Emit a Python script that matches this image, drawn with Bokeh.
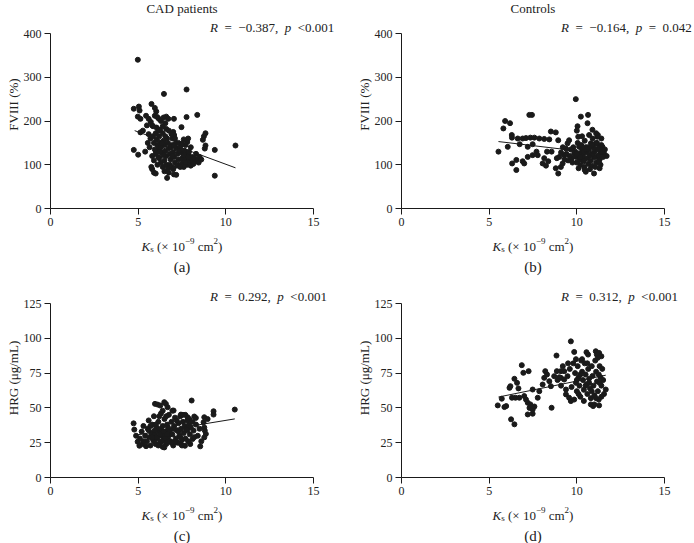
import math
from bokeh.plotting import figure
from bokeh.models import Label, Range1d, FixedTicker, ColumnDataSource
from bokeh.layouts import column, row
from bokeh.embed import file_html
from bokeh.resources import INLINE

# ---------------- data ----------------
x_ticks = [0, 5, 10, 15]
fviii_ticks = [0, 100, 200, 300, 400]
hrg_ticks = [0, 25, 50, 75, 100, 125]

panel_titles = ["CAD patients", "Controls"]
panel_letters = ["(a)", "(b)", "(c)", "(d)"]
r_values = ["\u22120.387", "\u22120.164", "0.292", "0.312"]
p_values = ["<0.001", "=\u20020.042", "<0.001", "<0.001"]

# (a) CAD patients: Ks vs FVIII (%)
cad_fviii = [
    (4.98, 340), (6.47, 262), (7.76, 272),
    (4.75, 228), (5.04, 233), (5.08, 224), (5.76, 239), (5.95, 230), (6.03, 222),
    (4.98, 210), (5.13, 205), (5.45, 212), (5.6, 205), (5.72, 198), (5.8, 190),
    (5.95, 212), (6.09, 209), (6.18, 205), (6.3, 200), (6.45, 208), (6.6, 210), (6.72, 205),
    (6.55, 195), (6.4, 188), (6.25, 180),
    (7.04, 205), (7.76, 209), (8.37, 214), (7.47, 186), (7.0, 175), (7.05, 168), (6.95, 160),
    (8.84, 172), (8.75, 165), (8.69, 157), (7.85, 160), (7.8, 152), (7.7, 145), (10.55, 144),
    (8.84, 144), (8.8, 137), (9.37, 134), (9.37, 75),
    (6.65, 70), (7.04, 78), (7.17, 77), (5.8, 90), (5.9, 82), (5.75, 95), (6.0, 80),
    (4.75, 134), (5.0, 123), (5.13, 174), (5.27, 178), (5.4, 130),
    (5.6, 170), (5.7, 160), (5.85, 165), (5.9, 150), (6.0, 172), (6.05, 158), (6.1, 145),
    (6.15, 135), (6.2, 165), (6.25, 150), (6.3, 140), (6.35, 128), (6.4, 172), (6.45, 155),
    (6.5, 145), (6.55, 132), (6.6, 120), (6.65, 160), (6.7, 150), (6.75, 138), (6.8, 125),
    (6.85, 112), (6.9, 170), (6.95, 145), (7.0, 130), (7.05, 118), (7.1, 105), (7.15, 150),
    (7.2, 138), (7.25, 125), (7.3, 112), (7.35, 100), (7.4, 140), (7.45, 128), (7.5, 115),
    (7.55, 105), (7.6, 95), (7.65, 132), (7.7, 120), (7.75, 110), (7.8, 100), (7.85, 125),
    (7.9, 112), (7.95, 105), (8.0, 98), (8.05, 118), (8.1, 110), (8.2, 115), (8.3, 108),
    (8.4, 112), (8.5, 118), (8.6, 112), (8.3, 125),
    (5.8, 120), (5.9, 110), (6.0, 125), (6.1, 100), (6.2, 115), (6.3, 105), (6.4, 95),
    (6.5, 110), (6.6, 100), (6.7, 92), (6.8, 100), (6.9, 95), (7.0, 90), (6.05, 185),
    (6.15, 178), (6.6, 182), (6.75, 178), (7.1, 160), (7.3, 150), (7.5, 148), (7.6, 158),
    (7.2, 98), (7.4, 95), (7.9, 130), (8.0, 140), (7.65, 100), (7.7, 105), (8.15, 102),
    (8.45, 105), (6.35, 150), (6.55, 165), (6.85, 140), (7.05, 143), (6.45, 122), (6.25, 130),
    (6.15, 118), (5.95, 135), (5.65, 140), (5.55, 150), (5.5, 190), (5.85, 188), (6.95, 120),
    (7.35, 132), (7.6, 122), (7.85, 118), (6.5, 85), (6.75, 82),
]
cad_fviii_fit_x = [4.8, 10.55]
cad_fviii_fit_y = [178, 93]

# (b) Controls: Ks vs FVIII (%)
ctl_fviii = [
    (9.94, 250), (5.53, 130), (5.81, 183), (5.91, 200), (6.19, 195), (6.06, 141), (6.29, 168),
    (6.30, 162), (6.31, 103), (6.55, 88), (6.55, 111), (6.74, 147), (6.91, 108), (7.0, 103),
    (7.29, 214), (7.44, 214),
    (6.63, 160), (6.91, 160), (7.1, 161), (7.35, 162), (7.58, 162), (7.86, 160), (8.14, 159),
    (8.43, 158),
    (7.2, 141), (7.48, 147), (7.7, 130), (7.77, 122), (7.48, 122), (7.2, 118), (8.05, 103),
    (8.24, 98), (8.37, 108), (8.14, 115), (8.3, 130), (8.56, 130), (8.52, 176), (8.8, 174),
    (8.94, 156), (8.86, 115), (8.8, 92), (8.94, 80), (9.09, 95), (9.19, 103), (9.28, 122),
    (9.38, 137), (9.47, 149), (9.56, 156), (9.70, 115), (9.85, 126), (10.04, 188), (10.0, 178),
    (10.08, 164), (10.13, 141), (10.23, 210), (10.27, 126), (10.32, 111), (10.42, 95),
    (10.51, 84), (10.61, 195), (10.64, 214), (10.7, 168), (10.8, 149), (10.89, 180),
    (10.98, 80), (10.98, 118), (11.08, 149), (11.17, 164), (11.27, 141), (11.3, 92),
    (11.36, 130), (11.46, 141), (11.55, 126), (11.7, 120),
    (9.8, 140), (9.9, 130), (9.95, 118), (10.0, 105), (10.05, 150), (10.1, 125), (10.15, 112),
    (10.2, 100), (10.25, 145), (10.3, 135), (10.35, 120), (10.4, 108), (10.45, 155),
    (10.5, 140), (10.55, 128), (10.6, 115), (10.65, 102), (10.7, 135), (10.75, 122),
    (10.8, 110), (10.85, 98), (10.9, 160), (10.95, 140), (11.0, 130), (11.05, 118),
    (11.1, 105), (11.15, 150), (11.2, 135), (11.25, 122), (11.3, 112), (11.35, 100),
    (11.4, 160), (11.45, 128), (11.5, 118), (11.2, 168), (11.1, 172), (10.4, 130),
    (10.6, 140), (10.2, 118), (10.0, 125), (9.75, 105), (9.6, 120), (9.5, 110), (9.65, 135),
    (10.45, 88), (10.75, 90), (11.25, 108), (10.9, 125), (10.3, 165), (11.4, 145),
    (11.6, 135), (9.4, 125), (9.3, 112), (9.2, 140), (9.1, 128), (9.0, 118), (10.1, 92),
    (11.05, 95), (10.85, 145),
]
ctl_fviii_fit_x = [5.53, 11.65]
ctl_fviii_fit_y = [153, 124]

# (c) CAD patients: Ks vs HRG (ug/mL)
cad_hrg = [
    (10.51, 48.8), (9.3, 47.6), (9.3, 45.2), (8.05, 55.3), (8.54, 22.4), (4.74, 38.9),
    (4.78, 34.4), (4.88, 30.0), (4.97, 25.7), (5.07, 22.8),
    (5.96, 52.9), (6.11, 52.4), (6.26, 51.7), (6.49, 54.1), (6.58, 52.9), (6.68, 50.5),
    (7.02, 48.1), (7.44, 45.2), (7.69, 45.0), (7.82, 43.3), (7.91, 42.0), (8.2, 43.8),
    (8.29, 42.8), (8.77, 43.3), (8.96, 42.0), (8.73, 39.7), (8.77, 36.0), (8.8, 33.7),
    (8.86, 31.3), (8.77, 28.8), (8.16, 33.7), (8.1, 27.6), (7.97, 24.0), (7.67, 22.8),
    (7.44, 24.0), (7.06, 25.2), (6.49, 21.6),
    (5.1, 28), (5.2, 33), (5.25, 24), (5.3, 37), (5.4, 30), (5.5, 26), (5.55, 35), (5.6, 41),
    (5.65, 29), (5.7, 23), (5.75, 32), (5.8, 38), (5.85, 27), (5.9, 44), (5.95, 31),
    (6.0, 24), (6.05, 36), (6.1, 28), (6.15, 40), (6.2, 33), (6.25, 25), (6.3, 46),
    (6.35, 30), (6.4, 37), (6.45, 27), (6.5, 42), (6.55, 33), (6.6, 24), (6.65, 38),
    (6.7, 29), (6.75, 45), (6.8, 34), (6.85, 26), (6.9, 40), (6.95, 31), (7.0, 23),
    (7.05, 37), (7.1, 43), (7.15, 28), (7.2, 34), (7.25, 25), (7.3, 39), (7.35, 30),
    (7.4, 44), (7.45, 35), (7.5, 27), (7.55, 40), (7.6, 32), (7.65, 37), (7.7, 28),
    (7.75, 35), (7.8, 41), (7.85, 26), (7.9, 38), (7.95, 31), (8.0, 36), (8.1, 40),
    (8.3, 38), (8.4, 30), (8.5, 35), (8.6, 26),
    (5.3, 26), (5.45, 22.5), (5.6, 34), (5.9, 26), (6.0, 38), (6.15, 23), (6.3, 35),
    (6.4, 22), (6.5, 30), (6.6, 44), (6.7, 36), (6.85, 31), (6.95, 48), (7.1, 26),
    (7.3, 33), (7.5, 23), (7.55, 45), (7.2, 41), (6.4, 48), (6.2, 44), (6.05, 29),
    (5.8, 29), (5.7, 37), (6.55, 28), (6.25, 31), (6.75, 26), (7.0, 35), (6.45, 33),
    (6.9, 25), (5.95, 34), (6.35, 26), (6.65, 31), (7.4, 29), (7.8, 34), (8.2, 29),
]
cad_hrg_fit_x = [4.88, 10.51]
cad_hrg_fit_y = [30.5, 42.1]

# (d) Controls: Ks vs HRG (ug/mL)
ctl_hrg = [
    (9.66, 97.8), (9.85, 90.2), (8.84, 87.6), (11.08, 90.7), (11.27, 89.5), (11.14, 88.3),
    (10.64, 88.3), (11.4, 87.1), (6.86, 80.7), (6.95, 75.2), (7.25, 76.4), (6.44, 70.9),
    (6.21, 65.6), (6.16, 64.4), (6.59, 68.0), (6.67, 64.0), (5.72, 56.6), (5.49, 51.8),
    (5.87, 50.6), (5.97, 51.3), (6.25, 41.8), (6.44, 38.2), (6.3, 57.3), (6.5, 57.3),
    (6.72, 57.3), (7.0, 58.5), (7.1, 56.0), (7.2, 53.7), (7.35, 52.5), (7.3, 50.0),
    (7.48, 48.8), (7.2, 45.3), (7.48, 45.8), (7.58, 51.0), (7.48, 63.2), (7.77, 57.3),
    (7.86, 62.0), (8.05, 66.8), (8.14, 71.6), (8.2, 76.4), (8.3, 74.0), (8.43, 69.2),
    (8.56, 50.1), (8.52, 65.6), (8.71, 72.8), (8.86, 76.4), (9.09, 76.4), (9.28, 76.4),
    (9.09, 71.6), (9.28, 70.4), (9.47, 72.8), (9.38, 63.2), (9.38, 59.7), (9.56, 57.3),
    (9.66, 54.9), (9.85, 56.0), (11.65, 63.2), (10.8, 52.5), (10.93, 51.3), (11.0, 52.5),
    (11.27, 51.8),
    (9.8, 82), (9.9, 75), (9.95, 68), (10.0, 62), (10.05, 80), (10.1, 72), (10.15, 66),
    (10.2, 58), (10.25, 84), (10.3, 76), (10.35, 70), (10.4, 63), (10.45, 82), (10.5, 74),
    (10.55, 67), (10.6, 60), (10.65, 78), (10.7, 71), (10.75, 64), (10.8, 57), (10.85, 80),
    (10.9, 73), (10.95, 66), (11.0, 59), (11.05, 84), (11.1, 76), (11.15, 69), (11.2, 62),
    (11.25, 56), (11.3, 80), (11.35, 72), (11.4, 66), (11.45, 78), (11.5, 70), (11.55, 60),
    (11.2, 86), (10.3, 85), (10.6, 82), (10.0, 70), (9.95, 85), (10.4, 55), (11.1, 57),
    (10.7, 68), (10.2, 74), (10.5, 66), (11.3, 68), (10.85, 62), (9.7, 65), (9.6, 78),
    (9.5, 82), (9.2, 80), (9.0, 72), (8.9, 70), (9.1, 66), (10.1, 60), (11.4, 58),
    (10.55, 90), (11.25, 74),
]
ctl_hrg_fit_x = [5.53, 11.65]
ctl_hrg_fit_y = [57.8, 73.5]

# ---------------- styling ----------------
SERIF = "Liberation Serif"
INK = "#1a1a1a"
TXT = "#222222"

# Times-metric advance widths (em) used to lay out mixed-style text runs
REG = {" ": .25, "\u00a0": .25, "\u2002": .5, ".": .25, ",": .25, "=": .564, "<": .564,
       "\u2212": .564, "(": .333, ")": .333, "\u00d7": .564, "c": .444, "m": .778, "s": .389}
ITA = {"R": .611, "p": .5, "K": .667}


def text_width(s, size, italic=False):
    tab = ITA if italic else REG
    return sum((tab.get(ch, .5)) * size for ch in s)


def add_label(p, x, y, text, size, italic=False, align="left", baseline="alphabetic"):
    p.add_layout(Label(x=x, y=y, text=text, text_font=SERIF, text_font_size=f"{size}px",
                       text_font_style="italic" if italic else "normal",
                       text_align=align, text_baseline=baseline, text_color=TXT))


SX = 263 / 15.0      # px per Ks unit
BOTTOM = 26          # tick-label strip below x axis
FIG_W = 347


def make_panel(pts, fit_x, fit_y, ymax, yticks, ylabel, r_val, p_val, title,
               left, frame_h, sy, r_base_px, title_base_px):
    fw = FIG_W - left
    p = figure(width=FIG_W, height=frame_h + BOTTOM,
               x_range=Range1d(0, fw / SX), y_range=Range1d(0, frame_h / sy),
               output_backend="svg", toolbar_location=None,
               min_border_left=left, min_border_right=0,
               min_border_top=0, min_border_bottom=BOTTOM)
    p.xgrid.visible = False
    p.ygrid.visible = False
    p.outline_line_color = None
    p.background_fill_color = "white"
    p.border_fill_color = "white"

    for ax, ticks, bnd in ((p.xaxis, x_ticks, (0, 15)), (p.yaxis, yticks, (0, ymax))):
        ax.ticker = FixedTicker(ticks=ticks)
        ax.bounds = bnd
        ax.minor_tick_line_color = None
        ax.major_tick_in = 0
        ax.major_tick_out = 6
        ax.major_tick_line_color = INK
        ax.axis_line_color = INK
        ax.major_label_text_font = SERIF
        ax.major_label_text_font_size = "12px"
        ax.major_label_text_color = TXT
        ax.major_label_standoff = 3
    p.yaxis.axis_label = ylabel
    p.yaxis.axis_label_text_font = SERIF
    p.yaxis.axis_label_text_font_size = "13px"
    p.yaxis.axis_label_text_font_style = "normal"
    p.yaxis.axis_label_text_color = TXT
    p.yaxis.axis_label_standoff = 0

    src = ColumnDataSource(dict(x=[a for a, b in pts], y=[b for a, b in pts]))
    p.scatter("x", "y", source=src, size=5, color=INK, line_color=INK)
    p.line(fit_x, fit_y, line_color=INK, line_width=1)

    # correlation annotation (mixed italic / upright runs)
    rruns = [("R", True), ("\u2002=\u2002" + r_val + ",\u2002", False), ("p", True),
             ("\u2002" + p_val, False)]
    cur = 9.1
    for t, it in rruns:
        add_label(p, cur, r_base_px / sy, t, 13, italic=it)
        cur += text_width(t, 13, it) / SX

    if title:
        add_label(p, 7.5, title_base_px / sy, title, 13, align="center")
    return p


def make_caption(height, centers, letters, title_base, letter_mid):
    p = figure(width=2 * FIG_W, height=height, x_range=Range1d(0, 2 * FIG_W),
               y_range=Range1d(0, height),
               output_backend="svg", toolbar_location=None,
               x_axis_location=None, y_axis_location=None,
               min_border_left=0, min_border_right=0, min_border_top=0, min_border_bottom=0)
    p.xgrid.visible = False
    p.ygrid.visible = False
    p.outline_line_color = None
    p.background_fill_color = "white"
    p.border_fill_color = "white"
    runs = [("K", 13, True, 0), ("s", 9, False, -3), ("\u00a0(\u00d7\u00a010", 13, False, 0),
            ("\u22129", 9, False, 5), ("\u00a0cm", 13, False, 0), ("2", 9, False, 5),
            (")", 13, False, 0)]
    total = sum(text_width(t, s, it) for t, s, it, _ in runs)
    for cx, letter in zip(centers, letters):
        cur = cx - total / 2
        for t, s, it, sh in runs:
            add_label(p, cur, title_base + sh, t, s, italic=it)
            cur += text_width(t, s, it)
        add_label(p, cx, letter_mid, letter, 15, align="center", baseline="middle")
    return p


SY1 = 175 / 400.0
SY2 = 174 / 125.0
LEFT_A, LEFT_B = 50, 54

# row 1: frame 0..208 ; row 2: frame 278..477 (page px)
pa = make_panel(cad_fviii, cad_fviii_fit_x, cad_fviii_fit_y, 400, fviii_ticks, "FVIII (%)",
                r_values[0], p_values[0], panel_titles[0], LEFT_A, 208, SY1, 181, 200.5)
pb = make_panel(ctl_fviii, ctl_fviii_fit_x, ctl_fviii_fit_y, 400, fviii_ticks, "FVIII (%)",
                r_values[1], p_values[1], panel_titles[1], LEFT_B, 208, SY1, 181, 200.5)
pc = make_panel(cad_hrg, cad_hrg_fit_x, cad_hrg_fit_y, 125, hrg_ticks, "HRG (\u03bcg/mL)",
                r_values[2], p_values[2], None, LEFT_A, 199, SY2, 181.5, 0)
pd_ = make_panel(ctl_hrg, ctl_hrg_fit_x, ctl_hrg_fit_y, 125, hrg_ticks, "HRG (\u03bcg/mL)",
                 r_values[3], p_values[3], None, LEFT_B, 199, SY2, 181.5, 0)

centers = [LEFT_A + 7.5 * SX, FIG_W + LEFT_B + 7.5 * SX]
cap1 = make_caption(44, centers, panel_letters[0:2], 32.5, 12)
cap2 = make_caption(40, centers, panel_letters[2:4], 28.5, 8)

layout = column(row(pa, pb), cap1, row(pc, pd_), cap2)

open("out.html", "w").write(file_html(layout, INLINE))
